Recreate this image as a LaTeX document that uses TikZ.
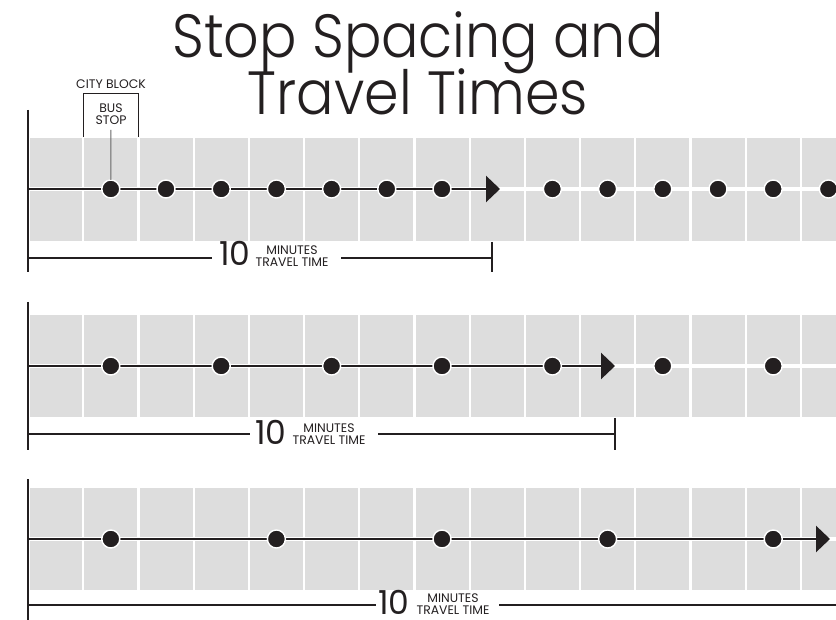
\documentclass[tikz,border=0pt]{standalone}
\usepackage{fontspec}
\setmainfont{Poppins}
\newfontfamily\titlefont{Poppins Light}
\usetikzlibrary{arrows.meta}
\definecolor{ink}{HTML}{231F20}
\definecolor{cell}{HTML}{DDDDDD}
\definecolor{leadgray}{HTML}{666666}
\newcommand\stacklbl[2]{\vbox{\halign{\hfil##\hfil\cr#1\cr#2\cr}}}
\begin{document}
\begin{tikzpicture}[x=1pt,y=-1pt,
  every node/.style={inner sep=0pt, outer sep=0pt, text=ink},
  titletext/.style={font=\titlefont\fontsize{61}{61}\selectfont, anchor=base, transform shape, xscale=0.91},
  bignum/.style={font=\fontsize{33}{33}\selectfont, anchor=base west, text depth=0pt},
  smalltext/.style={font=\fontsize{12.4}{11.5}\selectfont, anchor=base},
  twolines/.style={smalltext, text depth=0pt},
  stopdot/.style={circle, fill=ink, draw=white, line width=1.4pt, minimum size=18pt},
  mainline/.style={draw=ink, line width=2.7pt, -{Triangle[length=14pt,width=26pt]}},
  axisline/.style={draw=ink, line width=2.6pt},
  dimline/.style={draw=ink, line width=2.2pt},
  bracket/.style={draw=ink, line width=0.8pt},
  leader/.style={draw=leadgray, line width=1pt},
  gapline/.style={draw=white, line width=2.2pt},
  midgap/.style={draw=white, line width=3.8pt}]
\useasboundingbox (0,0) rectangle (836,620);
\fill[white] (0,0) rectangle (836,620);

% title
\node[titletext] (title1) at (418,58) {Stop Spacing and};
\node[titletext] (title2) at (418,115) {Travel Times};

% bands of city blocks
\foreach \tp/\md/\bt in {138/189/241, 315/366/417, 488/539/590}{
  \fill[cell] (29.5,\tp) rectangle (836,\bt);
  \foreach \k in {1,...,14}{
    \draw[gapline] ({28+55.2*\k},\tp) -- ({28+55.2*\k},\bt);
  }
  \draw[midgap] (29.5,\md) -- (836,\md);
}

% axis lines
\draw[axisline] (28,110) -- (28,272);
\draw[axisline] (28,302) -- (28,450);
\draw[axisline] (28,479) -- (28,620);

% city block bracket and bus stop label
\node[smalltext] (cityblock) at (111,89) {CITY BLOCK};
\draw[bracket] (83.2,137) -- (83.2,93) -- (138.4,93) -- (138.4,137);
\node[twolines] (busstop) at (111,124.5) {\stacklbl{BUS}{STOP}};
\coordinate (leadtop) at (110.8,130);

% ---- band 1 ----
\coordinate (s1) at (28,189);
\coordinate (t1) at (500,189);
\draw[mainline] (s1) -- (t1);
\foreach \k in {2,...,8,10,11,12,13,14,15}{
  \node[stopdot] (a\k) at ({28+55.2*(\k-0.5)},189) {};
}
\draw[leader] (leadtop) -- (a2.north);

% ---- band 2 ----
\coordinate (s2) at (28,366);
\coordinate (t2) at (615,366);
\draw[mainline] (s2) -- (t2);
\foreach \k in {2,4,6,8,10,12,14}{
  \node[stopdot] (b\k) at ({28+55.2*(\k-0.5)},366) {};
}

% ---- band 3 ----
\coordinate (s3) at (28,539);
\coordinate (t3) at (830,539);
\draw[mainline] (s3) -- (t3);
\foreach \k in {2,5,8,11,14}{
  \node[stopdot] (c\k) at ({28+55.2*(\k-0.5)},539) {};
}

% ---- dimension 1 ----
\node[bignum] (ten1) at (219,266) {10};
\node[twolines] (mt1) at (292,266.5) {\stacklbl{MINUTES}{TRAVEL TIME}};
\coordinate (d1a) at (28,258);
\coordinate (d1b) at (212,258);
\coordinate (d1c) at (341,258);
\coordinate (d1d) at (492,258);
\draw[dimline] (d1a) -- (d1b);
\draw[dimline] (d1c) -- (d1d);
\draw[dimline] (492,242) -- (492,272);

% ---- dimension 2 ----
\node[bignum] (ten2) at (255,445) {10};
\node[twolines] (mt2) at (329,444.5) {\stacklbl{MINUTES}{TRAVEL TIME}};
\coordinate (d2a) at (28,434);
\coordinate (d2b) at (250,434);
\coordinate (d2c) at (378,434);
\coordinate (d2d) at (615,434);
\draw[dimline] (d2a) -- (d2b);
\draw[dimline] (d2c) -- (d2d);
\draw[dimline] (615,418) -- (615,450);

% ---- dimension 3 ----
\node[bignum] (ten3) at (378,614.5) {10};
\node[twolines] (mt3) at (453,614) {\stacklbl{MINUTES}{TRAVEL TIME}};
\coordinate (d3a) at (28,605);
\coordinate (d3b) at (376,605);
\coordinate (d3c) at (499,605);
\coordinate (d3d) at (836,605);
\draw[dimline] (d3a) -- (d3b);
\draw[dimline] (d3c) -- (d3d);
\end{tikzpicture}
\end{document}
